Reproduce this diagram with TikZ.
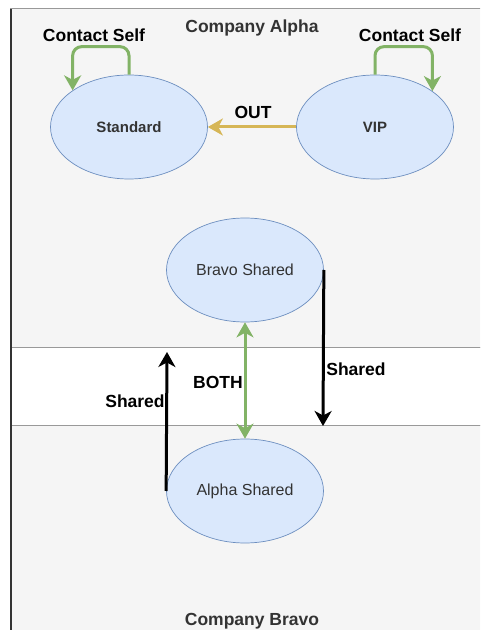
\documentclass[tikz,border=0pt]{standalone}
\usepackage{fontspec}
\setmainfont{Liberation Sans}
\usetikzlibrary{arrows.meta,shapes.geometric}
\definecolor{lanefill}{HTML}{F5F5F5}
\definecolor{lanestroke}{HTML}{999999}
\definecolor{elfill}{HTML}{DAE8FC}
\definecolor{elstroke}{HTML}{6C8EBF}
\definecolor{grn}{HTML}{82B366}
\definecolor{gold}{HTML}{D6B656}
\definecolor{txtgray}{HTML}{333333}
\tikzset{
  state/.style={ellipse, draw=elstroke, fill=elfill, line width=0.7pt, minimum width=157pt, minimum height=104pt, inner sep=0pt, text=txtgray, font=\fontsize{16}{19}\selectfont},
  boldstate/.style={state, font=\bfseries\fontsize{15}{18}\selectfont},
  lbl/.style={font=\bfseries\fontsize{17.5}{20}\selectfont, text=black, inner sep=1pt},
  title/.style={font=\bfseries\fontsize{17.5}{20}\selectfont, text=txtgray, inner sep=1pt},
  tip/.style={-{Stealth[length=15pt,width=17pt,inset=4.5pt]}},
  greenarrow/.style={tip, draw=grn, line width=3pt, rounded corners=9pt},
  blackarrow/.style={tip, draw=black, line width=3pt},
}
\begin{document}
\begin{tikzpicture}[x=1pt,y=1pt]
\useasboundingbox (0,0) rectangle (480,630);
\clip (0,0) rectangle (480,630);
\fill[white] (0,0) rectangle (480,630);
% lanes
\draw[lanestroke, fill=lanefill, line width=1pt] (10,621) rectangle (490,282);
\draw[lanestroke, fill=white, line width=1pt] (10,282) rectangle (490,204);
\draw[lanestroke, fill=lanefill, line width=1pt] (10,204) rectangle (490,-10);
\draw[txtgray, line width=2pt] (11,621) -- (11,-5);
% titles
\node[title] (talpha) at (252,602) {Company Alpha};
\node[title] (tbravo) at (252,9) {Company Bravo};
% states
\node[boldstate] (std) at (129,503) {Standard};
\node[boldstate] (vip) at (375,503) {VIP};
\node[state] (bravo) at (245,360) {Bravo Shared};
\node[state] (alpha) at (245,139) {Alpha Shared};
% self loops
\draw[greenarrow] (std.north) -- ++(0,28) -| (std.147);
\draw[greenarrow] (vip.north) -- ++(0,28) -| (vip.32);
\node[lbl] (cs1) at (94,595) {Contact Self};
\node[lbl] (cs2) at (410,595) {Contact Self};
% OUT
\draw[tip, draw=gold, line width=3pt] (vip.west) -- (std.east);
\node[lbl] (out) at (253,518) {OUT};
% BOTH
\draw[{Stealth[length=15pt,width=17pt,inset=4.5pt]}-{Stealth[length=15pt,width=17pt,inset=4.5pt]}, draw=grn, line width=3pt] (bravo.south) -- (alpha.north);
\node[lbl] (both) at (218,248) {BOTH};
% Shared arrows
\coordinate (upend) at (167,278);
\coordinate (downend) at (323,204);
\draw[blackarrow] (alpha.west) -- (upend);
\draw[blackarrow] (bravo.east) -- (downend);
\node[lbl] (sh1) at (135,229) {Shared};
\node[lbl] (sh2) at (356,261) {Shared};
\end{tikzpicture}
\end{document}
